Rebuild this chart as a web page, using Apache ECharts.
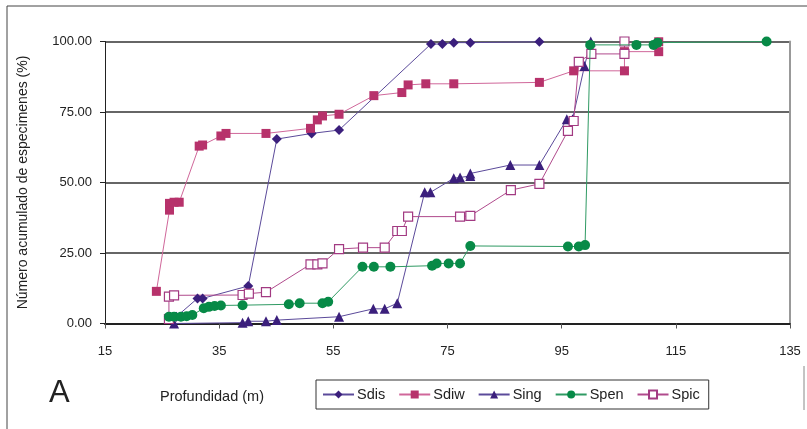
<!DOCTYPE html>
<html>
<head>
<meta charset="utf-8">
<script src="https://cdn.jsdelivr.net/npm/echarts@6/dist/echarts.min.js"></script>
<style>
  html, body { margin: 0; padding: 0; background: #fff; }
  #chart { width: 807px; height: 429px; }
</style>
</head>
<body>
<div id="chart"></div>
<script>
// depth (m) and cumulative % per species
const sdisDepth = [27.5, 31.2, 32.1, 40.1, 45.1, 51.2, 56.0, 72.1, 74.1, 76.1, 79.0, 91.1];
const sdisPct = [2.4, 8.9, 8.9, 13.3, 65.4, 67.4, 68.6, 99.1, 99.1, 99.6, 99.6, 99.9];

const sdiwDepth = [24.0, 26.3, 26.3, 27.1, 28.0, 31.5, 32.1, 35.3, 36.2, 43.2, 51.0, 52.2, 53.1,
  56.0, 62.1, 67.0, 68.1, 71.2, 76.1, 91.1, 97.1, 106.0, 106.0, 112.0, 112.0];
const sdiwPct = [11.4, 40.2, 42.6, 43.0, 43.0, 62.9, 63.3, 66.5, 67.4, 67.4, 69.2, 72.2, 73.6,
  74.2, 80.8, 81.9, 84.6, 85.0, 85.0, 85.5, 89.6, 89.6, 96.4, 96.4, 99.9];

const singDepth = [27.1, 39.1, 40.1, 43.2, 45.1, 56.0, 62.0, 64.0, 66.2, 71.0, 72.0, 76.1, 77.2,
  79.0, 79.0, 86.0, 91.1, 95.9, 96.9, 99.0, 100.1];
const singPct = [0, 0.3, 0.8, 0.8, 1.2, 2.4, 5.2, 5.2, 7.2, 46.5, 46.5, 51.5, 51.8,
  52.3, 53.2, 56.2, 56.2, 72.4, 72.4, 91.3, 100];

const spenDepth = [26.2, 27.1, 28.3, 29.3, 30.3, 32.3, 33.2, 34.2, 35.3, 39.1, 47.2, 49.1, 53.1,
  54.1, 60.1, 62.1, 65.0, 72.3, 73.1, 75.2, 77.2, 79.0, 96.1, 98.0, 99.1, 100.0, 108.1, 111.1,
  111.8, 130.9];
const spenPct = [2.4, 2.4, 2.4, 2.6, 3.0, 5.4, 5.9, 6.2, 6.4, 6.5, 6.8, 7.2, 7.2,
  7.7, 20.1, 20.1, 20.1, 20.5, 21.3, 21.3, 21.3, 27.5, 27.3, 27.3, 27.8, 98.8, 98.8, 98.8,
  99.6, 100];

const spicDepth = [26.2, 26.2, 27.1, 39.1, 40.2, 43.2, 51.0, 52.2, 53.1, 56.0, 60.2, 64.0, 66.2,
  67.0, 68.1, 77.2, 79.0, 86.1, 91.1, 96.1, 97.1, 98.0, 100.2, 106.0, 106.0];
const spicPct = [1.6, 9.5, 10.0, 10.1, 10.6, 11.1, 21.0, 21.0, 21.3, 26.4, 26.9, 26.9, 32.8,
  32.8, 37.9, 37.9, 38.2, 47.3, 49.5, 68.3, 71.8, 92.8, 95.6, 95.6, 100];

const xTicks = [15, 35, 55, 75, 95, 115, 135];
const yTicks = [0, 25, 50, 75, 100];

const FONT = 'Liberation Sans, Arial, sans-serif';

function pairs(xs, ys) {
  return xs.map((x, i) => [x, ys[i]]);
}

function makeSeries(name, xs, ys, opts) {
  return {
    name,
    type: 'line',
    data: pairs(xs, ys),
    symbol: opts.symbol,
    symbolSize: opts.size,
    lineStyle: { width: 1, color: opts.line },
    itemStyle: opts.item,
    z: opts.z || 2,
    emphasis: { disabled: true },
    animation: false,
  };
}

const chart = echarts.init(document.getElementById('chart'), null, { renderer: 'canvas' });

chart.setOption({
  backgroundColor: '#fff',
  textStyle: { fontFamily: FONT },
  grid: { left: 105, right: 17, top: 41.5, bottom: 105.5 },
  title: [
    { text: 'A', left: 44, top: 373, textStyle: { fontSize: 31, fontWeight: 'normal', color: '#222', fontFamily: FONT } },
    { text: 'Profundidad (m)', left: 155, top: 384, textStyle: { fontSize: 14.5, fontWeight: 'normal', color: '#222', fontFamily: FONT } },
  ],
  legend: {
    left: 316,
    top: 380,
    width: 400,
    padding: [7, 9, 7, 6],
    itemGap: 13,
    itemWidth: 31,
    itemHeight: 10,
    borderColor: '#333',
    borderWidth: 1,
    textStyle: { fontSize: 14.5, color: '#222', fontFamily: FONT, padding: [0, 0, 0, -2] },
    data: ['Sdis', 'Sdiw', 'Sing', 'Spen', 'Spic'],
  },
  xAxis: {
    type: 'value',
    min: xTicks[0],
    max: xTicks[xTicks.length - 1],
    interval: 20,
    axisLine: { lineStyle: { color: '#222', width: 2 } },
    axisTick: { show: true, inside: false, length: 5, lineStyle: { color: '#555', width: 1 } },
    axisLabel: { fontSize: 13, color: '#222', margin: 21, fontFamily: FONT },
    splitLine: { show: false },
  },
  yAxis: [
    {
      type: 'value',
      min: yTicks[0],
      max: yTicks[yTicks.length - 1],
      interval: 25,
      name: 'Número acumulado de especimenes (%)',
      nameLocation: 'middle',
      nameGap: 75,
      nameTextStyle: { fontSize: 14, color: '#222', fontFamily: FONT },
      axisLine: { show: true, lineStyle: { color: '#222', width: 1 } },
      axisTick: { show: true, inside: false, length: 5, lineStyle: { color: '#222' } },
      axisLabel: { fontSize: 13, color: '#222', margin: 13, formatter: (v) => v.toFixed(2), fontFamily: FONT },
      splitLine: { show: true, lineStyle: { color: '#333', width: 1.5 } },
    },
    {
      type: 'value',
      position: 'right',
      min: 0,
      max: 100,
      interval: 25,
      axisLine: { show: true, lineStyle: { color: '#999', width: 2 } },
      axisTick: { show: false },
      axisLabel: { show: false },
      splitLine: { show: false },
    },
  ],
  graphic: [
    { type: 'line', shape: { x1: 7, y1: 6, x2: 807, y2: 6 }, style: { stroke: '#444', lineWidth: 1 } },
    { type: 'line', shape: { x1: 7, y1: 6, x2: 7, y2: 429 }, style: { stroke: '#444', lineWidth: 1 } },
    { type: 'line', shape: { x1: 804, y1: 366, x2: 804, y2: 410 }, style: { stroke: '#888', lineWidth: 1 } },
  ],
  series: [
    makeSeries('Sdis', sdisDepth, sdisPct, {
      symbol: 'diamond', size: 10, line: '#5b4a9a', item: { color: '#3b1f7c' },
    }),
    makeSeries('Sdiw', sdiwDepth, sdiwPct, {
      symbol: 'rect', size: 9, line: '#d0679a', item: { color: '#b7326b' },
    }),
    makeSeries('Sing', singDepth, singPct, {
      symbol: 'triangle', size: 10, line: '#5b4a9a', item: { color: '#3b1f7c' },
    }),
    makeSeries('Spen', spenDepth, spenPct, {
      symbol: 'circle', size: 10, line: '#2f9a63', item: { color: '#078a47' }, z: 3,
    }),
    makeSeries('Spic', spicDepth, spicPct, {
      symbol: 'rect', size: 9, line: '#b04a8c',
      item: { color: '#fff', borderColor: '#a23a82', borderWidth: 1.2 },
    }),
  ],
});
</script>
</body>
</html>
